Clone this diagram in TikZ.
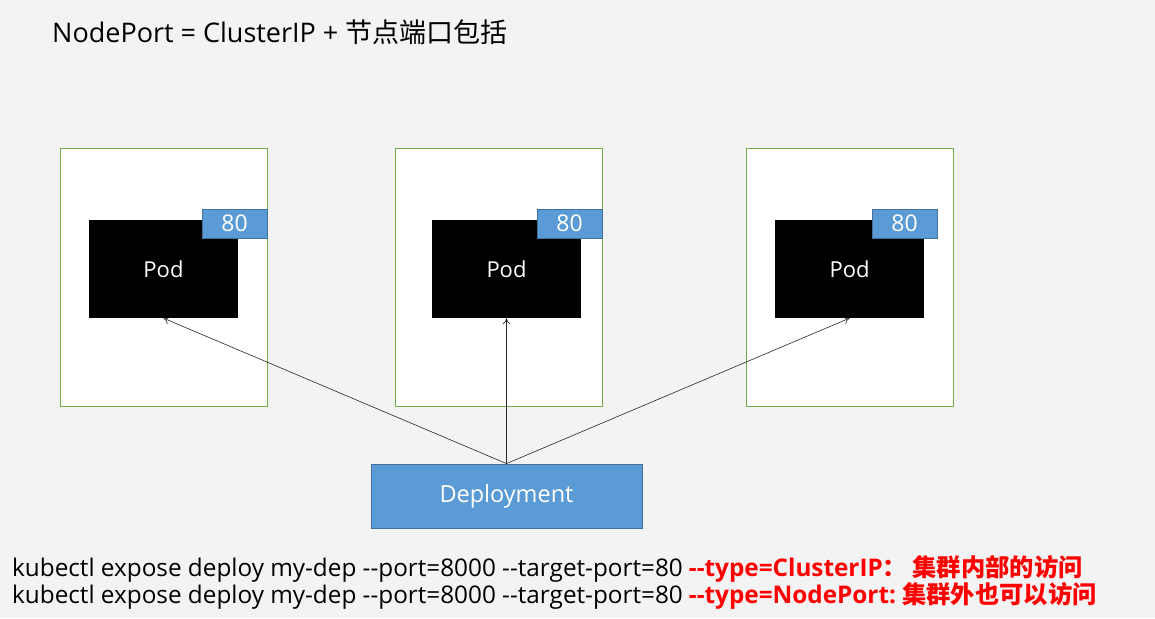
\documentclass[tikz,border=0pt]{standalone}
\usepackage{fontspec}
\setmainfont{Open Sans}
\newfontfamily\cjk{Noto Sans CJK SC}
\usetikzlibrary{arrows.meta}
\definecolor{bgc}{HTML}{F3F3F3}
\definecolor{frameg}{HTML}{70AD47}
\definecolor{portb}{HTML}{5B9BD5}
\definecolor{portbd}{HTML}{41719C}
\definecolor{redt}{HTML}{FF0000}
\newcommand{\dd}{\mbox{-}\mbox{-}}
\tikzset{
  hostbox/.style={draw=frameg, fill=white, line width=0.8pt, minimum width=207pt, minimum height=258pt, inner sep=0pt},
  podbox/.style={fill=black, text=white, minimum width=149pt, minimum height=98pt, inner sep=0pt, font=\fontsize{22}{24}\selectfont},
  portbox/.style={draw=portbd, fill=portb, text=white, line width=0.8pt, minimum width=65pt, minimum height=29pt, inner sep=0pt, font=\fontsize{23}{24}\selectfont},
  depbox/.style={draw=portbd, fill=portb, text=white, line width=0.8pt, minimum width=271pt, minimum height=64pt, inner sep=0pt, font=\fontsize{23.5}{26}\selectfont},
  link/.style={-{To[length=6pt,width=8pt]}, line width=0.6pt, draw=black!85},
  cmd/.style={anchor=base west, inner sep=0pt, font=\fontsize{24.3}{27}\selectfont}
}
\begin{document}
\begin{tikzpicture}[x=1pt,y=-1pt]
\fill[bgc] (0,0) rectangle (1155,618);
\useasboundingbox (0,0) rectangle (1155,618);
\node[anchor=base west, inner sep=0pt, font=\fontsize{27}{30}\selectfont] (title) at (52,43) {NodePort = ClusterIP + {\cjk 节点端口包括}};
% hosts
\node[hostbox] (h1) at (163.5,277) {};
\node[hostbox] (h2) at (498.5,277) {};
\node[hostbox] (h3) at (849.5,277) {};
% pods
\node[podbox] (p1) at (163.5,269) {Pod};
\node[podbox] (p2) at (506.5,269) {Pod};
\node[podbox] (p3) at (849.5,269) {Pod};
% ports
\node[portbox] (r1) at (234.5,223.5) {80};
\node[portbox] (r2) at (569.5,223.5) {80};
\node[portbox] (r3) at (904.5,223.5) {80};
% deployment
\node[depbox] (d) at (506.5,496) {Deployment};
\coordinate (dt) at (d.north);
\draw[link] (dt) -- (p1.south);
\draw[link] (dt) -- (p2.south);
\draw[link] (dt) -- (p3.south);
% commands
\node[cmd] (c1) at (12,576) {kubectl expose deploy my-dep \dd port=8000 \dd target-port=80 \textcolor{redt}{\bfseries\dd type=ClusterIP{\cjk ：\ 集群内部的访问}}};
\node[cmd] (c2) at (12,603) {kubectl expose deploy my-dep \dd port=8000 \dd target-port=80 \textcolor{redt}{\bfseries\dd type=NodePort:\ {\cjk 集群外也可以访问}}};
\end{tikzpicture}
\end{document}
